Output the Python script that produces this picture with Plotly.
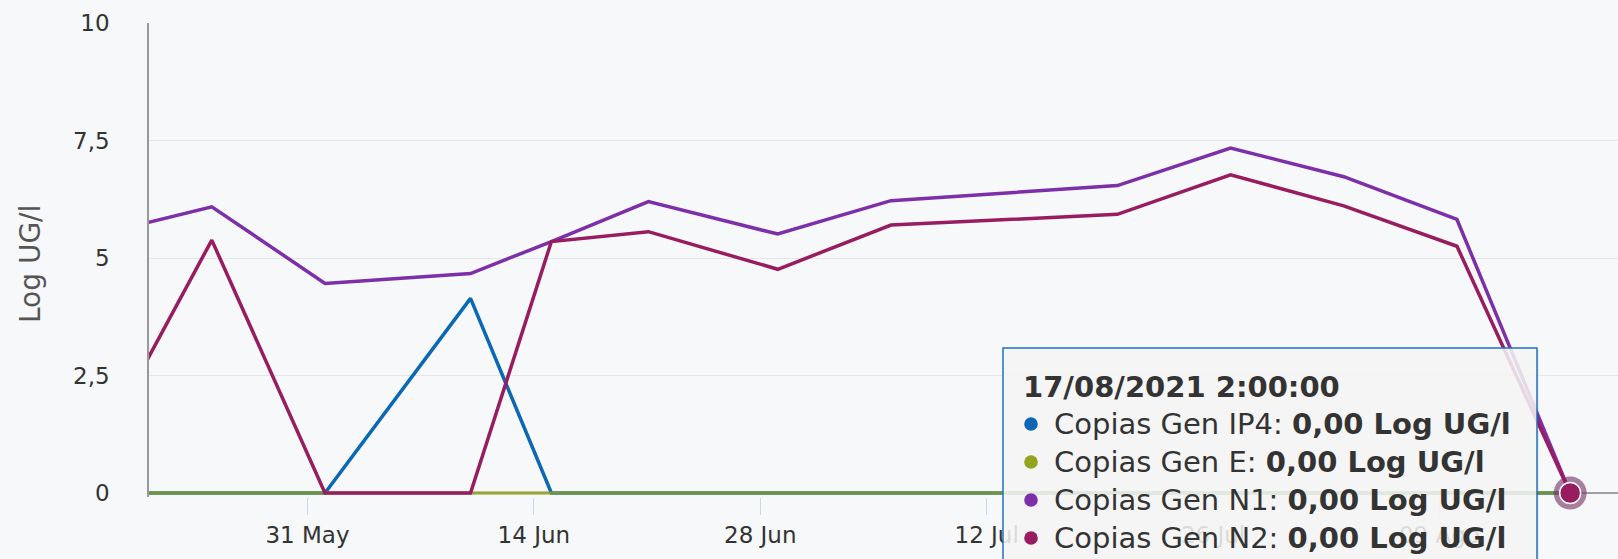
import plotly.graph_objects as go

# ---------------- data ----------------
dates = ["2021-05-21 02:00", "2021-05-25 02:00", "2021-06-01 02:00", "2021-06-10 02:00",
         "2021-06-15 02:00", "2021-06-21 02:00", "2021-06-29 02:00", "2021-07-06 02:00",
         "2021-07-20 02:00", "2021-07-27 02:00", "2021-08-03 02:00", "2021-08-10 02:00",
         "2021-08-17 02:00"]
ip4 = [0, 0, 0, 4.14, 0, 0, 0, 0, 0, 0, 0, 0, 0]
gen_e = [0, 0, 0, 0, 0, 0, 0, 0, 0, 0, 0, 0, 0]
n1 = [5.75, 6.09, 4.46, 4.67, 5.35, 6.20, 5.51, 6.22, 6.54, 7.34, 6.73, 5.82, 0]
n2 = [2.83, 5.38, 0, 0, 5.35, 5.56, 4.76, 5.70, 5.93, 6.77, 6.11, 5.25, 0]

series_names = ["Copias Gen IP4", "Copias Gen E", "Copias Gen N1", "Copias Gen N2"]
series_colors = ["#0b68b4", "#93a51c", "#7c2fa9", "#971d60"]
series_opacity = [1.0, 0.72, 1.0, 1.0]
series_values = [ip4, gen_e, n1, n2]

tick_dates = ["2021-05-31", "2021-06-14", "2021-06-28", "2021-07-12", "2021-07-26", "2021-08-09"]
tick_labels = ["31 May", "14 Jun", "28 Jun", "12 Jul", "26 Jul", "09 Ago"]
y_ticks = [0, 2.5, 5, 7.5, 10]
y_tick_labels = ["0", "2,5", "5", "7,5", "10"]

tooltip_title = "17/08/2021 2:00:00"
tooltip_unit = "Log UG/l"
y_title = "Log UG/l"

# ---------------- layout geometry (pixels) ----------------
W, H = 1618, 559
ML, MR, MT, MB = 149, 0, 23, 62
PW = W - ML - MR
PH = H - MT - MB
BG = "#f7f8fa"
FONT = "DejaVu Sans"


def xp(px):
    return (px - ML) / PW


def yp(py):
    return (H - MB - py) / PH


fig = go.Figure()

for name, color, op, vals in zip(series_names[:3], series_colors[:3],
                                 series_opacity[:3], series_values[:3]):
    fig.add_trace(go.Scatter(x=dates, y=vals, mode="lines", name=name, opacity=op,
                             line=dict(color=color, width=3.5)))

# hover halo (below N2 line)
fig.add_trace(go.Scatter(x=[dates[-1]], y=[n2[-1]], mode="markers", cliponaxis=False,
                         marker=dict(size=33, color="rgba(115,45,100,0.6)", line=dict(width=0)),
                         showlegend=False))

fig.add_trace(go.Scatter(x=dates, y=n2, mode="lines", name=series_names[3],
                         line=dict(color=series_colors[3], width=3.5)))

# hovered marker
fig.add_trace(go.Scatter(x=[dates[-1]], y=[n2[-1]], mode="markers", cliponaxis=False,
                         marker=dict(size=21, color=series_colors[3],
                                     line=dict(width=1.5, color="#ffffff")),
                         showlegend=False))

# ---------------- tooltip ----------------
shapes = []
annotations = []
tip_l, tip_t, tip_r, tip_b = 1003, 348, 1537, 575
# shadow
shapes.append(dict(type="rect", xref="paper", yref="paper", layer="above",
                   x0=xp(tip_l + 2), x1=xp(tip_r + 2), y0=yp(tip_b + 2), y1=yp(tip_t + 2),
                   fillcolor="rgba(0,0,0,0.06)", line=dict(width=0)))
shapes.append(dict(type="rect", xref="paper", yref="paper", layer="above",
                   x0=xp(tip_l), x1=xp(tip_r), y0=yp(tip_b), y1=yp(tip_t),
                   fillcolor="rgba(247,247,247,0.86)", line=dict(color="#1f72bf", width=1.5)))

annotations.append(dict(xref="paper", yref="paper", x=xp(1021), y=yp(387),
                        xanchor="left", yanchor="middle", showarrow=False,
                        text="<b>" + tooltip_title + "</b>",
                        font=dict(family=FONT, size=29, color="#333333")))
row_y = [424, 462, 500, 538]
for name, color, vals, ry in zip(series_names, series_colors, series_values, row_y):
    r = 6.8
    cx = 1031
    shapes.append(dict(type="circle", xref="paper", yref="paper", layer="above",
                       x0=xp(cx - r), x1=xp(cx + r), y0=yp(ry + r), y1=yp(ry - r),
                       fillcolor=color, line=dict(width=0)))
    val_txt = f"{vals[-1]:.2f}".replace(".", ",")
    annotations.append(dict(xref="paper", yref="paper", x=xp(1052), y=yp(ry),
                            xanchor="left", yanchor="middle", showarrow=False,
                            text=f"{name}: <b>{val_txt} {tooltip_unit}</b>",
                            font=dict(family=FONT, size=29, color="#333333")))

# y-axis title
annotations.append(dict(xref="paper", yref="paper", x=xp(30), y=yp(264),
                        xanchor="center", yanchor="middle", showarrow=False, textangle=-90,
                        text=y_title, font=dict(family=FONT, size=28, color="#555555")))

fig.update_layout(
    width=W, height=H,
    margin=dict(l=ML, r=MR, t=MT, b=MB, pad=0),
    paper_bgcolor=BG, plot_bgcolor=BG,
    showlegend=False, hovermode=False,
    shapes=shapes, annotations=annotations,
    font=dict(family=FONT, size=23, color="#333333"),
)
fig.update_xaxes(
    type="date", range=["2021-05-21 04:48", "2021-08-20 01:00"],
    tickmode="array", tickvals=tick_dates, ticktext=tick_labels,
    showgrid=False, showline=False, zeroline=False,
    ticks="outside", ticklen=17, tickwidth=1, tickcolor="#ccd6eb",
    tickfont=dict(family=FONT, size=23, color="#333333"),
)
y_low = -(H - MB - 493) / 47.0
fig.update_yaxes(
    range=[y_low, 10], tickmode="array", tickvals=y_ticks, ticktext=y_tick_labels,
    showgrid=True, gridcolor="#e6e6e6", gridwidth=1,
    zeroline=True, zerolinecolor="#a0a0a0", zerolinewidth=1.5,
    showline=True, linecolor="#999999", linewidth=1.5,
    ticks="", ticklabelstandoff=33,
    tickfont=dict(family=FONT, size=23, color="#333333"),
)

fig.write_html(
    "out.html",
    config={"displayModeBar": False},
    post_script="document.body.style.margin='0';document.body.style.overflow='hidden';"
                "document.documentElement.style.background='" + BG + "';",
)
